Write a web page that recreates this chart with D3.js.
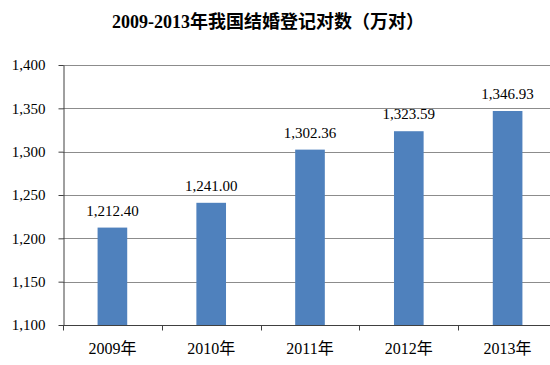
<!DOCTYPE html>
<html>
<head>
<meta charset="utf-8">
<script src="https://cdn.jsdelivr.net/npm/d3@7"></script>
<style>
  body { margin: 0; background: #fff; }
  svg { display: block; }
</style>
</head>
<body>
<div id="chart"></div>
<script>
const categories = ['2009年', '2010年', '2011年', '2012年', '2013年'];
const values = [1212.40, 1241.00, 1302.36, 1323.59, 1346.93];
const yTicks = [1100, 1150, 1200, 1250, 1300, 1350, 1400];
const title = '2009-2013年我国结婚登记对数（万对）';

const width = 550;
const height = 365;
const margin = { top: 65, right: -7, bottom: 40, left: 63 };
const serif = '"Liberation Serif", "Times New Roman", "Noto Sans CJK SC", serif';

const svg = d3.select('#chart')
  .append('svg')
  .attr('width', width)
  .attr('height', height);

const x = d3.scaleBand()
  .domain(categories)
  .range([margin.left, width - margin.right])
  .paddingInner(0.7)
  .paddingOuter(0.35);

const y = d3.scaleLinear()
  .domain([1100, 1400])
  .range([height - margin.bottom, margin.top]);

const fmt = d3.format(',');
const fmt2 = d3.format(',.2f');

// gridlines
svg.append('g')
  .selectAll('line')
  .data(yTicks.slice(1))
  .join('line')
  .attr('x1', margin.left)
  .attr('x2', width - margin.right)
  .attr('y1', d => Math.round(y(d)) + 0.5)
  .attr('y2', d => Math.round(y(d)) + 0.5)
  .attr('stroke', '#8c8c8c')
  .attr('stroke-width', 1);

// bars
svg.append('g')
  .selectAll('rect')
  .data(values)
  .join('rect')
  .attr('x', (d, i) => x(categories[i]))
  .attr('width', x.bandwidth())
  .attr('y', d => y(d))
  .attr('height', d => y(1100) - y(d))
  .attr('fill', '#4f81bd');

// value labels
svg.append('g')
  .selectAll('text')
  .data(values)
  .join('text')
  .attr('x', (d, i) => x(categories[i]) + x.bandwidth() / 2)
  .attr('y', d => y(d) - 12)
  .attr('text-anchor', 'middle')
  .attr('font-family', serif)
  .attr('font-size', 15)
  .attr('fill', '#000')
  .text(d => fmt2(d));

// y axis
const yAxis = svg.append('g')
  .attr('transform', `translate(${margin.left + 0.5},0)`)
  .call(d3.axisLeft(y).tickValues(yTicks).tickFormat(fmt).tickSize(5).tickSizeOuter(0));
yAxis.select('.domain').attr('stroke', '#404040');
yAxis.selectAll('.tick line').attr('stroke', '#404040');
yAxis.selectAll('.tick text')
  .attr('x', -18)
  .attr('font-family', serif)
  .attr('font-size', 15)
  .attr('fill', '#000');

// x axis
const xBottom = Math.round(y(1100)) + 0.5;
svg.append('line')
  .attr('x1', margin.left)
  .attr('x2', width)
  .attr('y1', xBottom)
  .attr('y2', xBottom)
  .attr('stroke', '#404040');

const step = x.step();
svg.append('g')
  .selectAll('line')
  .data(categories)
  .join('line')
  .attr('x1', (d, i) => Math.round(margin.left + i * step) + 0.5)
  .attr('x2', (d, i) => Math.round(margin.left + i * step) + 0.5)
  .attr('y1', xBottom)
  .attr('y2', xBottom + 5)
  .attr('stroke', '#404040');

svg.append('g')
  .selectAll('text')
  .data(categories)
  .join('text')
  .attr('x', d => x(d) + x.bandwidth() / 2)
  .attr('y', xBottom + 28)
  .attr('text-anchor', 'middle')
  .attr('font-family', serif)
  .attr('font-size', 16)
  .attr('fill', '#000')
  .text(d => d);

// title
svg.append('text')
  .attr('x', 268)
  .attr('y', 28)
  .attr('text-anchor', 'middle')
  .attr('font-family', serif)
  .attr('font-size', 18)
  .attr('font-weight', 'bold')
  .attr('fill', '#000')
  .text(title);
</script>
</body>
</html>
